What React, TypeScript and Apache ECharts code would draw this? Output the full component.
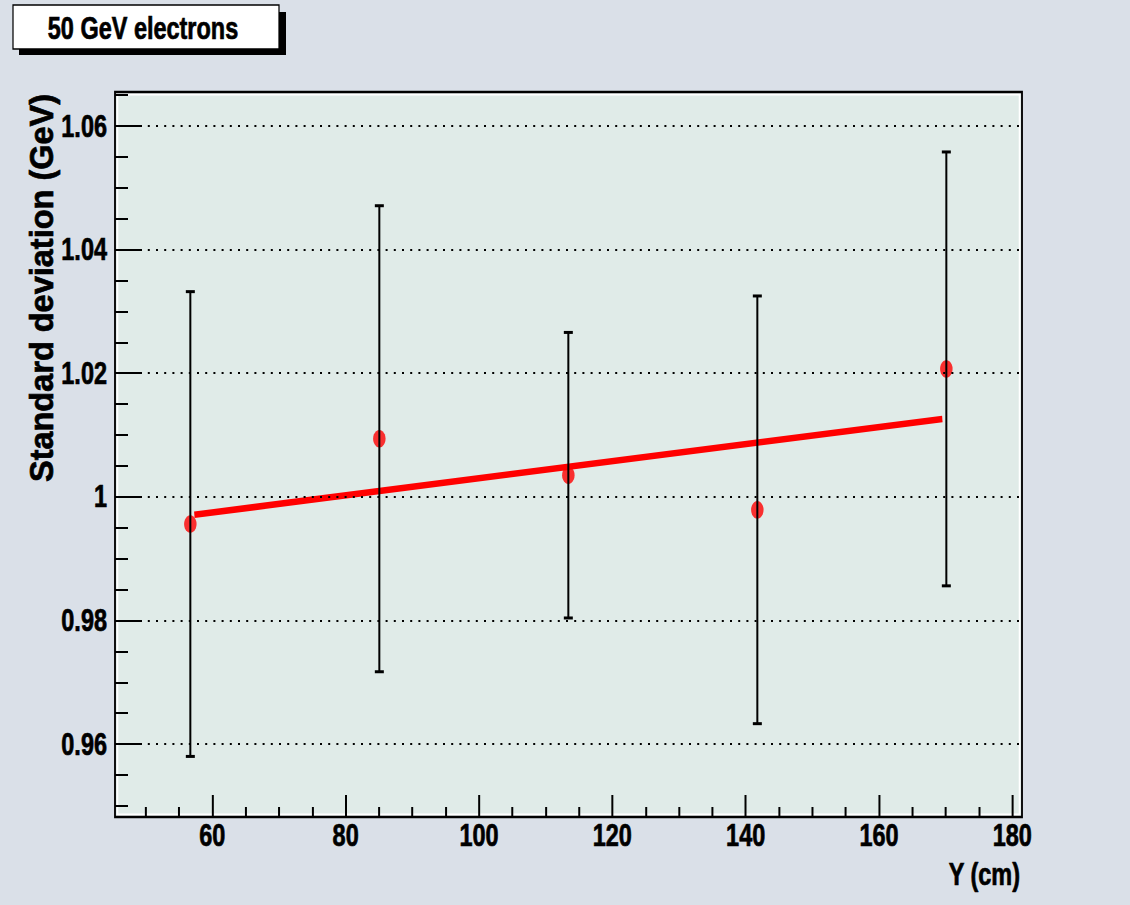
import React, { useEffect, useRef } from "react";
import * as echarts from "echarts";

const titleText = "50 GeV electrons";
const xTitle = "Y (cm)";
const yTitle = "Standard deviation (GeV)";

const xValues = [56.7, 85.05, 113.4, 141.75, 170.1];
const yValues = [0.9956, 1.0094, 1.0035, 0.9979, 1.0207];
const yErrors = [0.0376, 0.0377, 0.0231, 0.0346, 0.0351];

const fitX = [57.3, 169.5];
const fitY = [0.9971, 1.0126];

const xMajorTicks = [60, 80, 100, 120, 140, 160, 180];
const xMinorTicks = [50, 55, 65, 70, 75, 85, 90, 95, 105, 110, 115, 125, 130, 135, 145, 150, 155, 165, 170, 175];
const yMajorTicks = [0.96, 0.98, 1.0, 1.02, 1.04, 1.06];
const yMinorTicks = [0.95, 0.955, 0.965, 0.97, 0.975, 0.985, 0.99, 0.995, 1.005, 1.01, 1.015, 1.025, 1.03, 1.035, 1.045, 1.05, 1.055, 1.065];

const X_MIN = 45.4;
const X_MAX = 181.45;
const Y_MIN = 0.9482;
const Y_MAX = 1.0655;

const FONT = '"Liberation Sans", Arial, Helvetica, sans-serif';

const OUTER_BG = "#dae0e8";
const PLOT_BG = "#e0ebe8";

// The reference picture is horizontally condensed; the chart is drawn in a
// wider canvas and squeezed horizontally with a CSS transform.
const PAGE_W = 1130;
const PAGE_H = 905;
const CHART_W = 1468;
const S = PAGE_W / CHART_W;
const u = (px: number) => px / S; // screen x-size -> chart x-size

const G = { left: u(115), top: 92, width: u(907), height: 725 };

export default function App() {
  const ref = useRef<HTMLDivElement>(null);

  useEffect(() => {
    if (!ref.current) return;
    const chart = echarts.init(ref.current, undefined, { renderer: "svg" });

    const labelStyle = {
      color: "#000",
      fontFamily: FONT,
      fontWeight: "bold" as const,
      fontSize: 30.5,
      textBorderColor: "#000",
      textBorderWidth: 0.7,
    };

    const textStyle = (text: string, size: number, align: string) => ({
      text,
      fill: "#000",
      fontFamily: FONT,
      fontWeight: "bold",
      fontSize: size,
      align,
      verticalAlign: "middle",
      stroke: "#000",
      lineWidth: 0.7,
    });

    const option: any = {
      animation: false,
      backgroundColor: OUTER_BG,
      grid: {
        left: G.left,
        top: G.top,
        width: G.width,
        height: G.height,
        show: true,
        backgroundColor: PLOT_BG,
        borderWidth: 0,
      },
      xAxis: [
        {
          type: "value",
          min: X_MIN,
          max: X_MAX,
          position: "bottom",
          axisLine: { show: false },
          splitLine: { show: false },
          axisTick: {
            show: true,
            inside: true,
            length: 22,
            customValues: xMajorTicks,
            lineStyle: { color: "#000", width: u(2) },
          },
          axisLabel: {
            ...labelStyle,
            margin: 3,
            customValues: xMajorTicks,
            showMinLabel: true,
            showMaxLabel: true,
          },
        },
        {
          type: "value",
          min: X_MIN,
          max: X_MAX,
          position: "bottom",
          axisLine: { show: false },
          splitLine: { show: false },
          axisLabel: { show: false },
          axisTick: {
            show: true,
            inside: true,
            length: 10,
            customValues: xMinorTicks,
            lineStyle: { color: "#000", width: u(2) },
          },
        },
      ],
      yAxis: [
        {
          type: "value",
          min: Y_MIN,
          max: Y_MAX,
          position: "left",
          axisLine: { show: false },
          splitLine: { show: false },
          axisTick: {
            show: true,
            inside: true,
            length: u(27),
            customValues: yMajorTicks,
            lineStyle: { color: "#000", width: 2 },
          },
          axisLabel: {
            ...labelStyle,
            margin: u(8),
            customValues: yMajorTicks,
            formatter: (v: number) => String(Number(v.toFixed(2))),
          },
        },
        {
          type: "value",
          min: Y_MIN,
          max: Y_MAX,
          position: "left",
          axisLine: { show: false },
          splitLine: { show: false },
          axisLabel: { show: false },
          axisTick: {
            show: true,
            inside: true,
            length: u(13),
            customValues: yMinorTicks,
            lineStyle: { color: "#000", width: 2 },
          },
        },
      ],
      series: [
        {
          name: "grid",
          type: "line",
          data: [],
          z: 1,
          silent: true,
          markLine: {
            silent: true,
            symbol: "none",
            label: { show: false },
            lineStyle: { color: "#000", width: 2, type: [u(2), u(6.2)] },
            data: yMajorTicks.map((v) => ({ yAxis: v })),
          },
        },
        {
          name: "fit",
          type: "line",
          data: fitX.map((x, i) => [x, fitY[i]]),
          symbol: "none",
          z: 2,
          lineStyle: { color: "#ff0000", width: 6.5, cap: "butt" },
        },
        {
          name: "points",
          type: "scatter",
          data: xValues.map((x, i) => [x, yValues[i]]),
          symbol: "circle",
          symbolSize: [u(12.5), 17.5],
          itemStyle: { color: "#ff0000" },
          z: 3,
        },
        {
          name: "errors",
          type: "custom",
          z: 4,
          encode: { x: 0, y: 1 },
          data: xValues.map((x, i) => [x, yValues[i], yErrors[i]]),
          renderItem: (params: any, api: any) => {
            const x = api.value(0);
            const y = api.value(1);
            const e = api.value(2);
            const top = api.coord([x, y + e]);
            const bot = api.coord([x, y - e]);
            const half = u(4.5);
            return {
              type: "group",
              children: [
                {
                  type: "line",
                  shape: { x1: top[0], y1: top[1], x2: bot[0], y2: bot[1] },
                  style: { stroke: "#000", lineWidth: u(2) },
                },
                {
                  type: "line",
                  shape: { x1: top[0] - half, y1: top[1], x2: top[0] + half, y2: top[1] },
                  style: { stroke: "#000", lineWidth: 3 },
                },
                {
                  type: "line",
                  shape: { x1: bot[0] - half, y1: bot[1], x2: bot[0] + half, y2: bot[1] },
                  style: { stroke: "#000", lineWidth: 3 },
                },
              ],
            };
          },
        },
      ],
      graphic: [
        {
          type: "rect",
          z: 0,
          silent: true,
          shape: { x: G.left + u(2.5), y: G.top + 2.5, width: G.width - u(5), height: G.height - 5 },
          style: { fill: "none", stroke: "#ffffff", lineWidth: 2 },
        },
        {
          type: "rect",
          z: 20,
          silent: true,
          shape: { x: G.left, y: G.top, width: G.width, height: G.height },
          style: { fill: "none", stroke: "#000", lineWidth: 2.4 },
        },
        {
          type: "group",
          children: [
            {
              type: "rect",
              shape: { x: u(19), y: 12, width: u(267), height: 43 },
              style: { fill: "#000" },
            },
            {
              type: "rect",
              shape: { x: u(13), y: 5, width: u(266), height: 44 },
              style: { fill: "#ffffff", stroke: "#000", lineWidth: 1.6 },
            },
            {
              type: "text",
              x: u(143),
              y: 28,
              style: textStyle(titleText, 30.5, "center"),
            },
          ],
        },
        {
          type: "text",
          x: u(1020),
          y: 874,
          style: textStyle(xTitle, 30.5, "right"),
        },
        {
          type: "text",
          x: u(42),
          y: 288,
          rotation: Math.PI / 2,
          scaleY: 1 / S,
          style: textStyle(yTitle, 32.5, "center"),
        },
      ],
    };

    chart.setOption(option);
    return () => chart.dispose();
  }, []);

  return (
    <div
      style={{
        position: "absolute",
        left: 0,
        top: 0,
        width: PAGE_W,
        height: PAGE_H,
        overflow: "hidden",
        background: OUTER_BG,
      }}
    >
      <div
        ref={ref}
        style={{
          width: CHART_W,
          height: PAGE_H,
          transform: `scaleX(${S})`,
          transformOrigin: "0 0",
        }}
      />
    </div>
  );
}
